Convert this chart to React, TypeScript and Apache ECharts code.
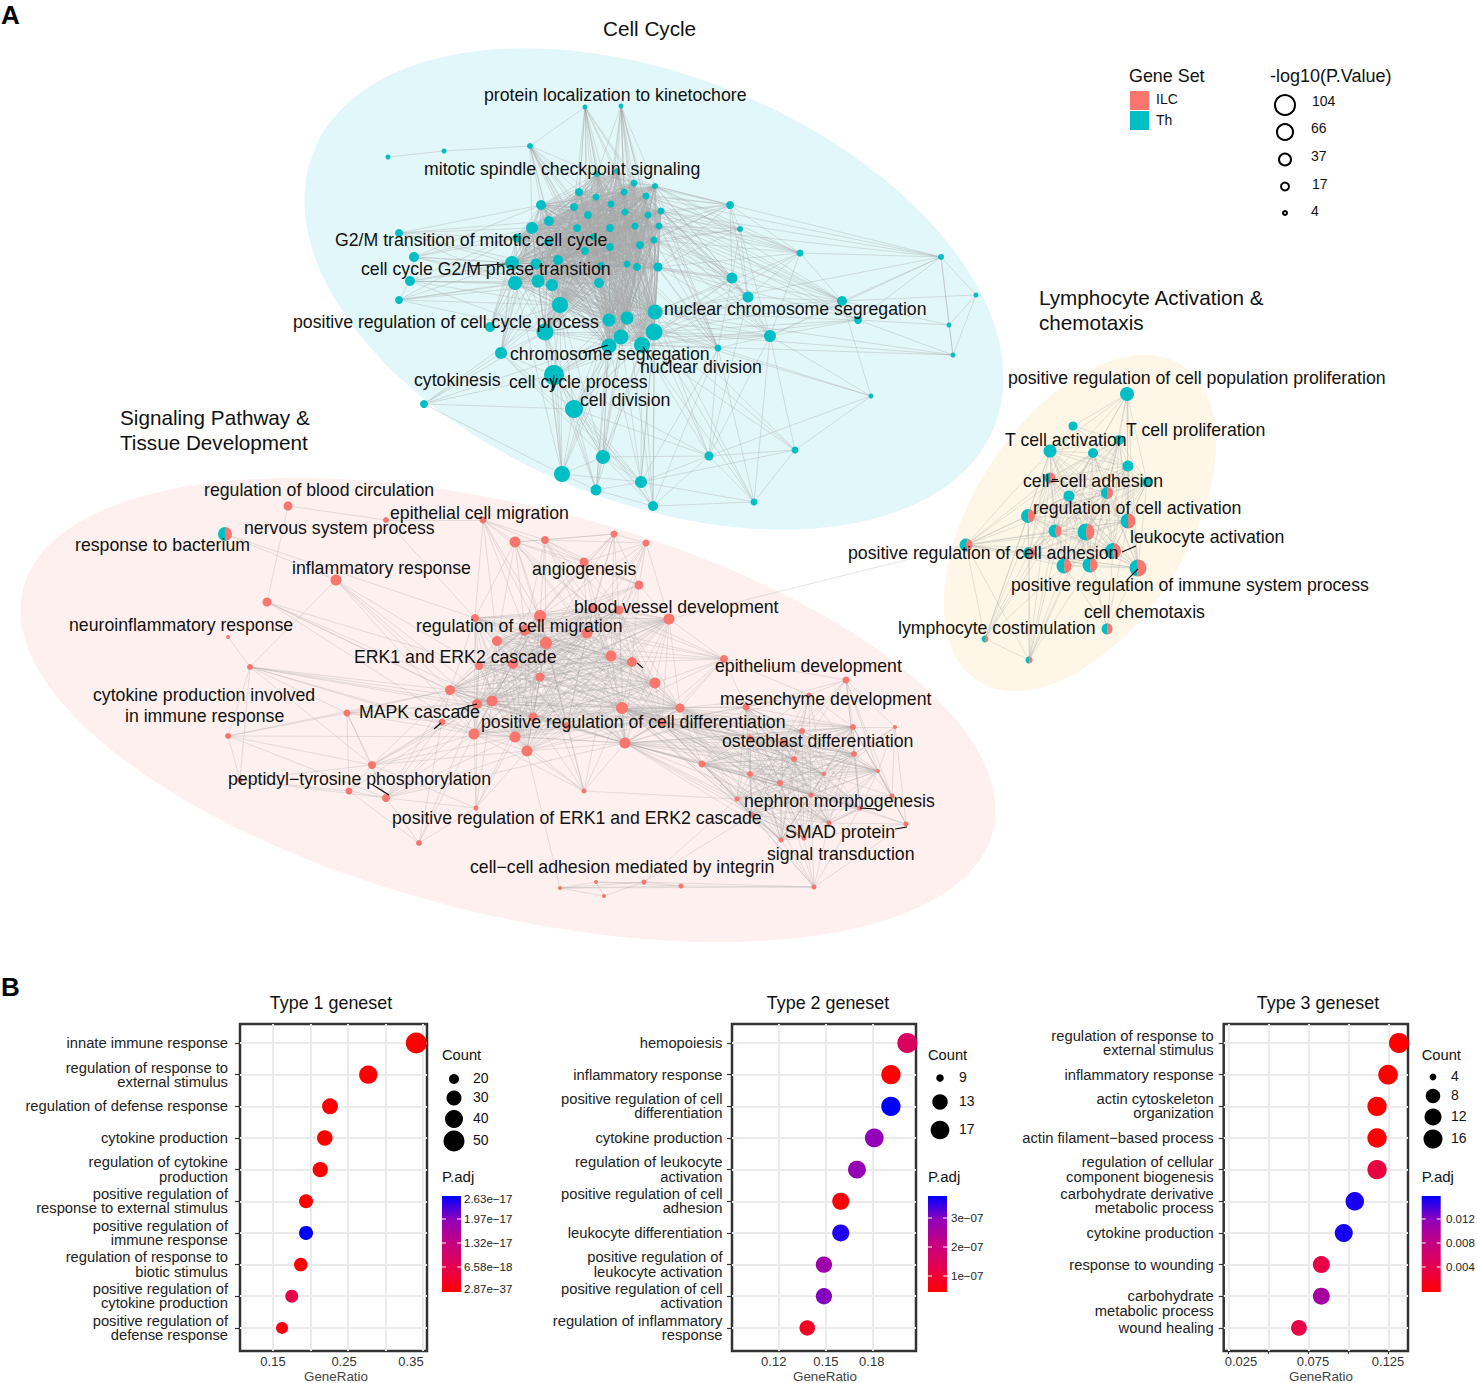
import React, { useEffect, useRef } from "react";
import * as echarts from "echarts";

const W = 1477;
const H = 1383;
const FONT = "Liberation Sans";
const TH = "#00BFC4";
const ILC = "#F8766D";

// Network nodes: [layout x, layout y, radius, share of Th genes]
const cellCycleNodes = [
  [585,107,2.5,1],[621,106,2.5,1],[530,146,3,1],[444,151,2.5,1],[388,157,2.5,1],[597,174,3,1],[617,171,3,1],[634,183,3.5,1],[655,186,3,1],[579,192,4,1],
  [596,197,3.5,1],[624,192,3.5,1],[646,196,3.5,1],[541,205,5,1],[574,207,4,1],[611,204,3.5,1],[625,212,3.5,1],[661,211,3.5,1],[588,215,4,1],[648,215,3.5,1],
  [549,221,5,1],[532,228,6,1],[577,228,4,1],[610,228,4,1],[635,226,3.5,1],[659,226,3.5,1],[399,233,4,1],[517,238,4.5,1],[548,242,4,1],[593,237,3.5,1],
  [654,240,3.5,1],[585,251,4,1],[610,247,4,1],[640,245,4,1],[414,257,5,1],[512,263,7,1],[536,264,5.5,1],[558,260,5,1],[601,266,4,1],[627,264,3.5,1],
  [637,267,4,1],[658,267,4.5,1],[410,281,5,1],[515,283,7,1],[538,281,6.5,1],[552,285,6,1],[599,283,5,1],[399,300,4,1],[560,305,8,1],[609,320,6.5,1],
  [627,318,6.5,1],[655,312,7.5,1],[490,327,5,1],[545,332,8.5,1],[654,332,8.5,1],[621,337,7.5,1],[609,346,7.5,1],[642,345,8,1],[501,353,6,1],[718,348,3.5,1],
  [554,375,10,1],[424,404,4,1],[574,409,9,1],[603,457,7,1],[562,474,8,1],[596,490,5.5,1],[641,482,6,1],[653,506,5,1],[709,456,4.5,1],[754,502,3.5,1],
  [730,205,4,1],[740,229,3,1],[732,278,5.5,1],[748,297,5.5,1],[770,336,6,1],[800,253,3.5,1],[842,301,5,1],[858,320,4,1],[941,257,3,1],[976,295,2.5,1],
  [949,325,2.5,1],[953,355,2.5,1],[871,396,2.5,1],[795,450,3.5,1],
];
const signalingNodes = [
  [288,506,4.5,0],[386,520,3,0],[483,520,3.5,0],[515,542,5.5,0],[545,540,4,0],[614,534,3.5,0],[646,543,3.5,0],[584,562,4.5,0],[336,580,5.5,0],[639,585,4.5,0],
  [267,602,4.5,0],[228,637,2,0],[475,618,4,0],[540,616,6,0],[593,608,5,0],[619,610,4.5,0],[669,619,5.5,0],[525,630,5.5,0],[587,633,5.5,0],[497,641,5,0],
  [546,643,6,0],[611,656,5.5,0],[632,662,5,0],[479,666,4,0],[513,664,5,0],[540,677,4.5,0],[250,667,3,0],[655,683,5.5,0],[450,690,5,0],[492,701,5.5,0],
  [477,704,5,0],[347,713,3.5,0],[622,708,6,0],[680,708,4.5,0],[533,717,4.5,0],[442,722,3.5,0],[567,726,3.5,0],[662,722,4,0],[228,736,3,0],[474,734,5.5,0],
  [515,737,5.5,0],[527,751,5.5,0],[625,743,5.5,0],[372,765,4,0],[240,780,3,0],[349,791,3.5,0],[386,798,4,0],[584,791,2.5,0],[476,808,2.5,0],[419,843,3,0],
  [560,888,2,0],[596,882,2,0],[644,882,2.5,0],[681,886,2.5,0],[604,896,2,0],[724,659,4,0],[846,680,3.5,0],[809,695,2.5,0],[746,707,3.5,0],[802,731,3,0],
  [853,727,3,0],[895,727,2,0],[750,738,3,0],[783,742,3,0],[854,754,3,0],[794,759,3,0],[878,771,2,0],[750,774,3,0],[824,774,2,0],[780,783,3,0],
  [702,764,3.5,0],[811,795,2.5,0],[892,796,2.5,0],[737,799,2.5,0],[860,808,2.5,0],[752,815,3,0],[829,823,2.5,0],[906,824,2.5,0],[781,840,2.5,0],[804,838,2.5,0],
  [814,887,2.5,0],[225,534,7,0.5],
];
const lymphocyteNodes = [
  [1127,394,7,1],[1073,426,4.5,1],[1119,440,5,1],[1050,451,6.5,1],[1093,453,5,1],[1128,466,5.5,1],[1147,482,5,1],[1050,478,5.5,0.5],[1069,496,5.5,1],[1107,493,6,0.55],
  [1028,516,7,0.55],[1128,521,7.5,0.5],[1055,531,6.5,0.6],[1086,532,8.5,0.55],[966,545,6.5,0.6],[1029,553,6,0.55],[1113,551,8,0.55],[1064,566,7.5,0.55],[1090,565,7.5,0.55],[1138,568,8.5,0.45],
  [1107,629,5.5,0.55],[985,639,3.5,0.6],[1029,660,3.5,0.55],
];

// Edges: sets of terms that all share genes, and hub -> neighbours lists
const cellCycleCore = [5,6,7,8,9,10,11,12,13,14,15,16,17,18,19,20,21,22,23,24,25,27,28,29,30,31,32,33,35,36,37,38,39,40,41,43,44,45,46,48,49,50,51,53,54,55,56,57];
const cellCycleFans: [number, number[]][] = [
  [0,[2,5,6,9,10,11,14,15,18,22,23,7,12,31,32,46]],[1,[5,6,7,11,12,15,16,19,24,30,33,38,39,40,8]],[2,[3,5,9,10,14,18,22,31,32,37,38,46,49,13,20,21]],[3,[4]],
  [26,[13,21,27,35,36,20,43,34]],[34,[13,21,27,35,36,43,44,42]],[42,[35,36,43,44,45,47,48,53,21]],[47,[35,43,44,45,48,53,21]],[52,[35,43,44,48,36,21,13,27,53]],
  [58,[35,43,44,45,48,36,21,13,27,53,60,62,63,66]],[59,[51,54,57,50,41,30,33,8,12,25,17,40,39,66,68,74,72]],[60,[63,64,65,66,67,68,48,53,54,55,56,57,49,50,51]],
  [62,[63,64,65,66,67,68,48,53,54,55,56,57,49,50,51]],[63,[64,65,66,67,68,53,54,55,56,57,49,50,48]],[64,[48,53,49,55,56,43,44,45,65,66]],[65,[53,55,56,57,66,67,49]],
  [66,[54,55,56,57,51,67,68,69]],[67,[54,57,51,59,68,69,50]],[68,[54,57,51,59,69,73,74,82]],[69,[57,54,51,59,74,83]],[83,[54,74,57,68,66,82,51]],[82,[74,76,59,54]],
  [61,[60,53,62,58,48,55,64]],[70,[8,12,17,19,25,30,7,11,41,71,72,73,75,33]],[71,[8,12,17,25,30,19,72,73,74,41,33,75]],[72,[51,54,57,17,25,30,8,41,33,40,12,19,73,74]],
  [73,[8,12,17,25,30,41,51,54,57,74,76,75,19]],[74,[51,54,57,50,55,41,30,17,25,76,77,75,78]],[75,[8,17,12,25,30,41,19,76,78,51,54]],[76,[8,17,12,25,30,41,51,54,77,78,80,79,19]],
  [77,[17,25,30,41,51,54,57,78,80,81]],[78,[79,80,81,17,25,12,8,51]],[79,[80,81]],[80,[81]],[81,[51,54,57]],
];
const signalingCoreA = [12,13,14,15,16,17,18,19,20,21,22,23,24,25,27,28,29,30,32,33,34,36,37,39,40,41,42];
const signalingCoreB = [58,59,60,62,63,64,65,66,67,68,69,70,71,73,74,75,76,78,79,42,37,33,32];
const signalingFans: [number, number[]][] = [
  [2,[1,3,4,12,13,14,17,19,20,7]],[3,[4,7,9,13,14,17,18,20,21,12,19,5]],[4,[5,6,7,9,13,14,15,17,18,21,20]],[5,[6,7,9,14,15,18,21,13,17,20]],[6,[7,9,14,15,18,21,16,13]],
  [7,[9,13,14,15,18,19,21]],[9,[14,15,16,18,21,22,19,13]],[0,[1,10]],[1,[12]],[8,[26,28,29,30,39,23,81]],[10,[28,29,30,39,23]],[81,[12]],
  [26,[11,44,28,29,30,35,31,39,43,34]],[31,[28,29,30,35,38,39,43,45,46]],[35,[28,30,39,40,43,46,29]],[38,[44,43,28,40,46,26]],[44,[45,46,43]],[43,[28,29,30,39,40,41,45,46,48]],
  [45,[46,49,30]],[46,[49,28,29,30,39,40,41,42,48]],[48,[39,40,30,29,49,41,25]],[49,[39,35,30]],[47,[39,40,41,25,34,36,13,42,32,73,21]],[50,[51,52,53,54,41,80]],[51,[54,52,53]],
  [52,[53,80,73,54,75]],[53,[80]],[55,[16,22,21,27,32,33,37,13,14,15,20,18,42,58,56,57]],[16,[32,33,37,27,22,21,18,42,14,15]],[56,[57,58,59,60,61,64,63,65,66,72,74]],
  [57,[58,59,60,62,63,64,65,68,69,71,33,37,42]],[61,[60,64,66,72,77,68,71]],[72,[66,77,74,68,60,64,76,71]],[77,[66,74,76,60,71,79]],[80,[78,79,75,76,71,74,73,67,69,77]],[75,[73,78,79]],
];
const lymphocyteCore = [2,3,4,5,6,7,8,9,10,11,12,13,15,16,17,18,19];
const lymphocyteFans: [number, number[]][] = [
  [0,[1,2,3,4,5,6,8,9,7,11,19]],[1,[3,4,7,2,5]],[14,[3,7,8,9,10,12,13,15,16,17,18,19,21,22,4,11]],[20,[16,19,18,17,11,13]],[21,[15,22,10,7,17,3,12,8]],[22,[15,10,12,17,13,8,18,7,9]],
];
const crossClusterEdges = [[[669,619],[966,545]]];
const labelLeaders = [
  [[470,266],[505,264]],[[583,353],[608,345]],[[643,347],[652,360]],[[1052,479],[1058,479]],[[1122,552],[1136,546]],[[1138,569],[1127,580]],[[434,729],[441,723]],
  [[458,709],[477,704]],[[373,785],[389,795]],[[637,663],[643,668]],[[860,808],[877,809]],[[895,829],[907,827]],[[554,375],[552,390]],
];

const networkLabels: [string, number, number][] = [
  ["protein localization to kinetochore",484,95],["mitotic spindle checkpoint signaling",424,169],["G2/M transition of mitotic cell cycle",335,240],["cell cycle G2/M phase transition",361,269],
  ["nuclear chromosome segregation",664,309],["positive regulation of cell cycle process",293,322],["chromosome segregation",510,354],["nuclear division",640,367],["cytokinesis",414,380],
  ["cell cycle process",509,382],["cell division",580,400],["regulation of blood circulation",204,490],["epithelial cell migration",390,513],["nervous system process",244,528],
  ["response to bacterium",75,545],["inflammatory response",292,568],["angiogenesis",532,569],["blood vessel development",574,607],["regulation of cell migration",416,626],
  ["neuroinflammatory response",69,625],["ERK1 and ERK2 cascade",354,657],["epithelium development",715,666],["cytokine production involved",93,695],["in immune response",125,716],
  ["mesenchyme development",720,699],["MAPK cascade",359,712],["positive regulation of cell differentiation",481,722],["osteoblast differentiation",722,741],["peptidyl\u2212tyrosine phosphorylation",228,779],
  ["nephron morphogenesis",744,801],["positive regulation of ERK1 and ERK2 cascade",392,818],["SMAD protein",785,832],["signal transduction",767,854],["cell\u2212cell adhesion mediated by integrin",470,867],
  ["positive regulation of cell population proliferation",1008,378],["T cell activation",1005,440],["T cell proliferation",1126,430],["cell\u2212cell adhesion",1023,481],["regulation of cell activation",1033,508],
  ["leukocyte activation",1130,537],["positive regulation of cell adhesion",848,553],["positive regulation of immune system process",1011,585],["cell chemotaxis",1084,612],["lymphocyte costimulation",898,628],
];
const clusterTitles: [string, number, number][] = [
  ["Cell Cycle",603,28],["Signaling Pathway &",120,417],["Tissue Development",120,442],["Lymphocyte Activation &",1039,297],["chemotaxis",1039,322],
];

// Dot plots
const type1Terms = ["innate immune response","regulation of response to\nexternal stimulus","regulation of defense response","cytokine production","regulation of cytokine\nproduction","positive regulation of\nresponse to external stimulus","positive regulation of\nimmune response","regulation of response to\nbiotic stimulus","positive regulation of\ncytokine production","positive regulation of\ndefense response"];
const type1Ratio = [0.341,0.277,0.226,0.219,0.213,0.194,0.194,0.187,0.175,0.162];
const type1Count = [50,41,33,32,31,28,28,27,26,24];
const type1Padj = [3e-37,1e-33,2e-25,1e-24,2e-24,1e-20,2.63e-17,1e-19,6.2e-18,8e-19];
const type2Terms = ["hemopoiesis","inflammatory response","positive regulation of cell\ndifferentiation","cytokine production","regulation of leukocyte\nactivation","positive regulation of cell\nadhesion","leukocyte differentiation","positive regulation of\nleukocyte activation","positive regulation of cell\nactivation","regulation of inflammatory\nresponse"];
const type2Ratio = [0.202,0.1916,0.1916,0.181,0.17,0.1597,0.1597,0.149,0.149,0.1384];
const type2Count = [19,18,18,17,16,15,15,14,14,13];
const type2Padj = [1.25e-7,1e-9,3.75e-7,2.8e-7,2.75e-7,1e-8,3.55e-7,2.6e-7,2.9e-7,4.5e-8];
const type3Terms = ["regulation of response to\nexternal stimulus","inflammatory response","actin cytoskeleton\norganization","actin filament\u2212based process","regulation of cellular\ncomponent biogenesis","carbohydrate derivative\nmetabolic process","cytokine production","response to wounding","\ncarbohydrate\nmetabolic process","wound healing"];
const type3Ratio = [0.1314,0.1246,0.1177,0.1177,0.1177,0.1038,0.0969,0.0829,0.0829,0.0689];
const type3Count = [19,18,17,17,17,15,14,12,12,10];
const type3Padj = [1e-5,2e-5,3e-5,3e-5,0.0032,0.0148,0.0149,0.0034,0.01,0.0035];

const panels = [
  { title: "Type 1 geneset", titleX: 331, axisX: 336, left: 240, right: 427, labelMargin: 12, terms: type1Terms, ratio: type1Ratio, count: type1Count, padj: type1Padj, padjMax: 2.63e-17,
    min: 0.106, max: 0.3553, grid: [0.15,0.2,0.25,0.3,0.35], ticks: false, xLabels: [[0.15,"0.15"],[0.2447,"0.25"],[0.334,"0.35"]] as [number,string][],
    sizeKeys: [[20,10],[30,15],[40,18],[50,21]], legendX: 442, keyX: 454, keyLabelX: 473, keyY: [1079,1098,1119,1141], keyText: ["20","30","40","50"],
    barLabelX: 464, barLabels: [["2.63e\u221217",1199],["1.97e\u221217",1219],["1.32e\u221217",1243],["6.58e\u221218",1267],["2.87e\u221237",1289]] as [string,number][], barTicks: [1219,1243,1267] },
  { title: "Type 2 geneset", titleX: 828, axisX: 825, left: 732, right: 916, labelMargin: 9.5, terms: type2Terms, ratio: type2Ratio, count: type2Count, padj: type2Padj, padjMax: 3.75e-7,
    min: 0.09057, max: 0.20754, grid: [0.12,0.15,0.18], ticks: false, xLabels: [[0.1171,"0.12"],[0.1503,"0.15"],[0.1794,"0.18"]] as [number,string][],
    sizeKeys: [[9,7.5],[13,15.5],[17,18.7],[19,20]], legendX: 928, keyX: 940, keyLabelX: 959, keyY: [1078,1102,1130], keyText: ["9","13","17"],
    barLabelX: 951, barLabels: [["3e\u221207",1218],["2e\u221207",1247],["1e\u221207",1276]] as [string,number][], barTicks: [1218,1247,1276] },
  { title: "Type 3 geneset", titleX: 1318, axisX: 1321, left: 1223.7, right: 1408, labelMargin: 10, terms: type3Terms, ratio: type3Ratio, count: type3Count, padj: type3Padj, padjMax: 0.0155,
    min: 0.02188, max: 0.13706, grid: [0.025,0.05,0.075,0.1,0.125], ticks: true, xLabels: [[0.0327,"0.025"],[0.0777,"0.075"],[0.1246,"0.125"]] as [number,string][],
    sizeKeys: [[4,6.7],[8,14.5],[12,17],[16,19],[19,20]], legendX: 1421.7, keyX: 1433, keyLabelX: 1451, keyY: [1077,1096,1117,1139], keyText: ["4","8","12","16"],
    barLabelX: 1446, barLabels: [["0.012",1219],["0.008",1243],["0.004",1267]] as [string,number][], barTicks: [1219,1243,1267] },
];

const padjStops = ["#FF0000","#E4004F","#C5007F","#9100B8","#0000FF"];
const PANEL_TOP = 1024;
const PANEL_BOTTOM = 1351;

function sizeFor(count: number, keys: number[][]) {
  if (count <= keys[0][0]) return keys[0][1];
  for (let i = 1; i < keys.length; i++) {
    if (count <= keys[i][0]) {
      const t = (count - keys[i - 1][0]) / (keys[i][0] - keys[i - 1][0]);
      return keys[i - 1][1] + t * (keys[i][1] - keys[i - 1][1]);
    }
  }
  return keys[keys.length - 1][1];
}

function linksOf(core: number[], fans: [number, number[]][]) {
  const seen = new Set<string>();
  const out: { source: number; target: number }[] = [];
  const add = (a: number, b: number) => {
    const k = a < b ? a + "-" + b : b + "-" + a;
    if (a === b || seen.has(k)) return;
    seen.add(k);
    out.push({ source: a, target: b });
  };
  core.forEach((a, i) => core.slice(i + 1).forEach((b) => add(a, b)));
  fans.forEach(([hub, list]) => list.forEach((b) => add(hub, b)));
  return out;
}

function networkSeries(nodes: number[][], links: { source: number; target: number }[], opacity: number) {
  return {
    type: "graph",
    coordinateSystem: "cartesian2d",
    xAxisIndex: 0,
    yAxisIndex: 0,
    layout: "none",
    z: 3,
    silent: true,
    data: nodes.map((n) => ({
      value: [n[0], n[1]],
      symbolSize: n[2] * 2,
      itemStyle: { color: n[3] === 1 ? TH : n[3] === 0 ? ILC : "rgba(0,0,0,0)", opacity: 1 },
    })),
    links,
    lineStyle: { color: "#a8a8a8", width: 0.6, opacity, curveness: 0 },
    label: { show: false },
    emphasis: { disabled: true },
  };
}

function txt(text: string, x: number, y: number, size: number, fill = "#111", align = "left", weight = "normal") {
  return {
    type: "text",
    x,
    y,
    z: 100,
    silent: true,
    style: { text, fontSize: size, fontFamily: FONT, fontWeight: weight, fill, align, verticalAlign: "middle" },
  };
}

function buildOption() {
  const grids: any[] = [{ left: 0, top: 0, width: W, height: H, show: false }];
  const xAxes: any[] = [{ type: "value", min: 0, max: W, show: false, gridIndex: 0 }];
  const yAxes: any[] = [{ type: "value", min: 0, max: H, inverse: true, show: false, gridIndex: 0 }];
  const series: any[] = [
    networkSeries(cellCycleNodes, linksOf(cellCycleCore, cellCycleFans), 0.6),
    networkSeries(signalingNodes, linksOf([...signalingCoreA], signalingFans).concat(linksOf(signalingCoreB, [])), 0.5),
    networkSeries(lymphocyteNodes, linksOf(lymphocyteCore, lymphocyteFans), 0.5),
    {
      type: "custom",
      coordinateSystem: "cartesian2d",
      xAxisIndex: 0,
      yAxisIndex: 0,
      z: 4,
      silent: true,
      clip: false,
      data: [...signalingNodes, ...lymphocyteNodes].filter((n) => n[3] > 0 && n[3] < 1),
      renderItem: (_p: any, api: any) => {
        const c = api.coord([api.value(0), api.value(1)]);
        const r = api.value(2);
        const a = api.value(3) * Math.PI;
        const sector = (start: number, end: number, fill: string) => ({
          type: "sector",
          shape: { cx: c[0], cy: c[1], r, r0: 0, startAngle: start, endAngle: end },
          style: { fill },
        });
        return {
          type: "group",
          children: [sector(Math.PI - a, Math.PI + a, TH), sector(Math.PI + a, Math.PI - a + 2 * Math.PI, ILC)],
        };
      },
    },
    {
      type: "lines",
      coordinateSystem: "cartesian2d",
      xAxisIndex: 0,
      yAxisIndex: 0,
      z: 2,
      silent: true,
      data: crossClusterEdges.map((coords) => ({ coords })),
      lineStyle: { color: "#a8a8a8", width: 0.6, opacity: 0.5 },
    },
    {
      type: "lines",
      coordinateSystem: "cartesian2d",
      xAxisIndex: 0,
      yAxisIndex: 0,
      z: 5,
      silent: true,
      data: labelLeaders.map((coords) => ({ coords })),
      lineStyle: { color: "#000", width: 1.1, opacity: 1 },
    },
    {
      type: "scatter",
      coordinateSystem: "cartesian2d",
      xAxisIndex: 0,
      yAxisIndex: 0,
      z: 5,
      silent: true,
      data: [[1285,105,20],[1285,132,16],[1285,159.5,12],[1285,186.5,8],[1285,213,4]],
      symbolSize: (v: number[]) => v[2],
      itemStyle: { color: "#fff", borderColor: "#000", borderWidth: 2, opacity: 1 },
    },
  ];

  const graphic: any[] = [
    { type: "ellipse", x: 654, y: 289, rotation: (-22 * Math.PI) / 180, z: 0, silent: true, shape: { cx: 0, cy: 0, rx: 367, ry: 213 }, style: { fill: "#E2F7F9" } },
    { type: "ellipse", x: 508, y: 710, rotation: (-14 * Math.PI) / 180, z: 0, silent: true, shape: { cx: 0, cy: 0, rx: 500, ry: 204 }, style: { fill: "#FDF0EE" } },
    { type: "ellipse", x: 1080, y: 523, rotation: (57 * Math.PI) / 180, z: 0, silent: true, shape: { cx: 0, cy: 0, rx: 188, ry: 107 }, style: { fill: "#FEF7E7" } },
    txt("A", 1, 15, 26, "#000", "left", "bold"),
    txt("B", 1, 987, 26, "#000", "left", "bold"),
    ...networkLabels.map(([t, x, y]) => txt(t, x, y, 17.7)),
    ...clusterTitles.map(([t, x, y]) => txt(t, x, y, 20.7)),
    txt("Gene Set", 1129, 76, 17.9),
    { type: "rect", x: 1130, y: 91, z: 50, silent: true, shape: { width: 19, height: 19 }, style: { fill: ILC } },
    { type: "rect", x: 1130, y: 111, z: 50, silent: true, shape: { width: 19, height: 19 }, style: { fill: TH } },
    txt("ILC", 1156, 99, 14),
    txt("Th", 1156, 120, 14),
    txt("-log10(P.Value)", 1270, 76, 18),
    txt("104", 1312, 101, 14),
    txt("66", 1311, 128, 14),
    txt("37", 1311, 156, 14),
    txt("17", 1312, 184, 14),
    txt("4", 1311, 211, 14),
  ];

  panels.forEach((p, i) => {
    const g = i + 1;
    grids.push({
      left: p.left, top: PANEL_TOP, width: p.right - p.left, height: PANEL_BOTTOM - PANEL_TOP,
      show: true, backgroundColor: "#fff", borderColor: "#333", borderWidth: 2.5,
    });
    xAxes.push({
      type: "value", gridIndex: g, min: p.min, max: p.max, position: "bottom",
      axisLine: { show: false, onZero: false },
      axisTick: { show: p.ticks, length: 3, customValues: p.grid, lineStyle: { color: "#333" } },
      axisLabel: {
        customValues: p.xLabels.map((l) => l[0]),
        margin: 4, fontSize: 13, fontFamily: FONT, color: "#333",
        formatter: (v: number) => {
          const hit = p.xLabels.reduce((a, b) => (Math.abs(b[0] - v) < Math.abs(a[0] - v) ? b : a));
          return hit[1];
        },
      },
      splitLine: { show: true, lineStyle: { color: "#EBEBEB", width: 2 } },
    });
    const idx = p.terms.map((_, k) => k);
    yAxes.push({
      type: "value", gridIndex: g, min: -0.6, max: 9.73, inverse: true,
      axisLine: { show: false },
      axisTick: { show: true, length: 5, customValues: idx, lineStyle: { color: "#333", width: 1.2 } },
      axisLabel: {
        customValues: idx, margin: p.labelMargin, fontSize: 14.75, lineHeight: 14.3, fontFamily: FONT, color: "#222", align: "right",
        formatter: (v: number) => p.terms[Math.round(v)],
      },
      splitLine: { show: true, lineStyle: { color: "#EBEBEB", width: 2 } },
    });
    series.push({
      type: "scatter",
      xAxisIndex: g,
      yAxisIndex: g,
      z: 6,
      clip: false,
      silent: true,
      data: p.ratio.map((r, k) => [r, k, p.count[k], p.padj[k]]),
      symbolSize: (v: number[]) => sizeFor(v[2], p.sizeKeys),
      itemStyle: { opacity: 1, color: (o: any) => echarts.color.lerp(Math.min(1, o.value[3] / p.padjMax), padjStops) },
    });
    graphic.push(txt(p.title, p.titleX, 1003, 17.9, "#111", "center"));
    graphic.push(txt("GeneRatio", p.axisX, 1376, 13.4, "#444", "center"));
    graphic.push(txt("Count", p.legendX, 1055, 14.7));
    graphic.push(txt("P.adj", p.legendX, 1176, 15));
    p.keyText.forEach((t, k) => {
      graphic.push({
        type: "circle", x: p.keyX, y: p.keyY[k], z: 50, silent: true,
        shape: { cx: 0, cy: 0, r: sizeFor(Number(t), p.sizeKeys) / 2 }, style: { fill: "#000" },
      });
      graphic.push(txt(t, p.keyLabelX, p.keyY[k] - 1, 14));
    });
    graphic.push({
      type: "rect", x: p.legendX, y: 1196, z: 50, silent: true, shape: { width: 19, height: 96 },
      style: {
        fill: new echarts.graphic.LinearGradient(0, 1, 0, 0, padjStops.map((color, k) => ({ offset: k / (padjStops.length - 1), color }))),
      },
    });
    p.barTicks.forEach((y) => {
      graphic.push({ type: "line", z: 51, silent: true, shape: { x1: p.legendX, y1: y, x2: p.legendX + 4, y2: y }, style: { stroke: "#fff", lineWidth: 1 } });
      graphic.push({ type: "line", z: 51, silent: true, shape: { x1: p.legendX + 15, y1: y, x2: p.legendX + 19, y2: y }, style: { stroke: "#fff", lineWidth: 1 } });
    });
    p.barLabels.forEach(([t, y]) => graphic.push(txt(t, p.barLabelX, y, 11.5, "#222")));
  });

  return {
    animation: false,
    backgroundColor: "#fff",
    textStyle: { fontFamily: FONT },
    grid: grids,
    xAxis: xAxes,
    yAxis: yAxes,
    series,
    graphic: { elements: graphic },
  };
}

export default function App() {
  const ref = useRef<HTMLDivElement>(null);
  useEffect(() => {
    document.body.style.margin = "0";
    const chart = echarts.init(ref.current!, null, { renderer: "svg" });
    chart.setOption(buildOption() as any);
    return () => chart.dispose();
  }, []);
  return <div ref={ref} style={{ width: W, height: H }} />;
}
